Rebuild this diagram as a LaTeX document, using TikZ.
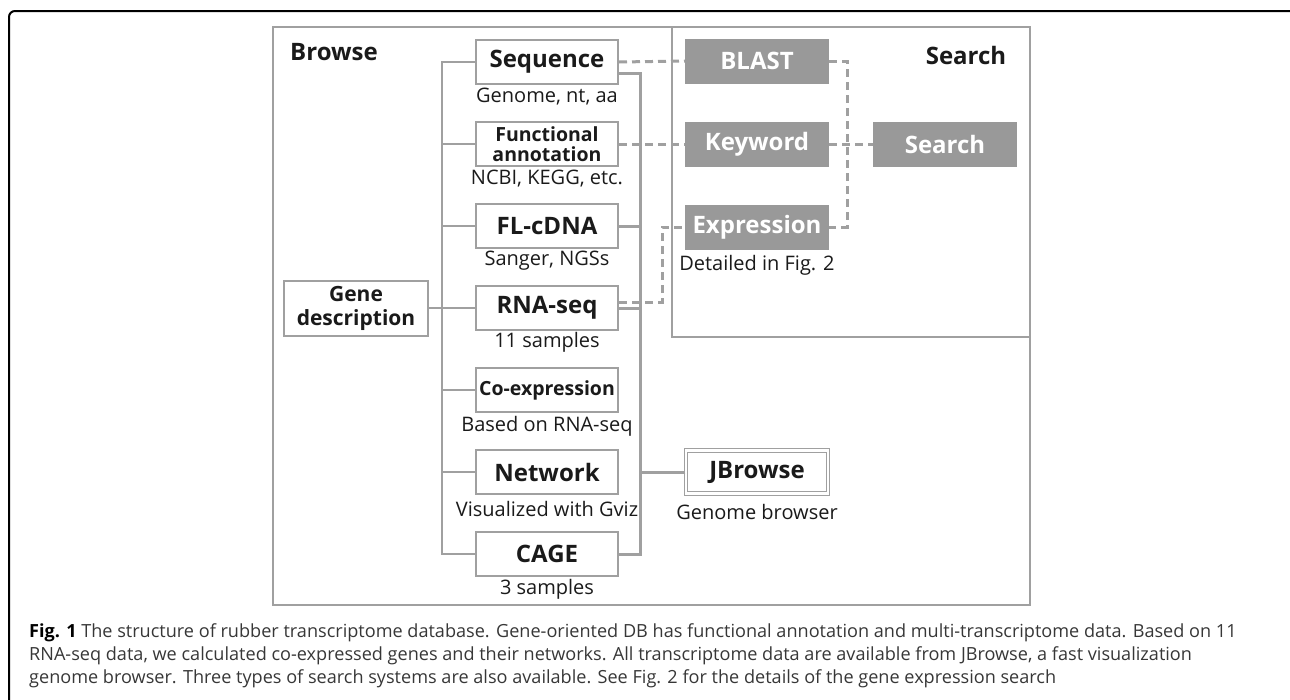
\documentclass[tikz,border=0pt]{standalone}
\usepackage{fontspec}
\setmainfont{Open Sans}
\usepackage{tikz}
\usetikzlibrary{arrows,shapes}
\definecolor{lgray}{RGB}{160,160,160}
\definecolor{bgray}{RGB}{153,153,153}
\definecolor{txt}{RGB}{26,26,26}
\definecolor{captxt}{RGB}{55,55,55}
\newcommand{\bigb}{\fontsize{24}{26}\selectfont\bfseries}
\newcommand{\smallb}{\fontsize{19.5}{20}\selectfont\bfseries}
\newcommand{\subf}{\fontsize{20}{22}\selectfont}
\newcommand{\capf}{\fontsize{18.1}{21}\selectfont}

\begin{document}
\begin{tikzpicture}[x=1pt,y=-1pt,node distance=82pt]
  \tikzstyle{wbox}=[draw=lgray,line width=2pt,fill=white,text=txt,minimum width=142pt,
                    minimum height=44pt,inner sep=0pt,align=center,font=\bigb]
  \tikzstyle{gbox}=[fill=bgray,text=white,minimum width=144pt,minimum height=45pt,inner sep=0pt,
                    font=\bigb]
  \tikzstyle{sub}=[text=txt,inner sep=0pt,font=\subf]
  \tikzstyle{thinline}=[draw=lgray,line width=2pt]
  \tikzstyle{thickline}=[draw=lgray,line width=3pt]
  \tikzstyle{dline}=[draw=lgray,line width=3pt,dash pattern=on 8pt off 5pt]
  \tikzstyle{captext}=[anchor=base west,inner sep=0pt,text=captxt,font=\capf]

  \useasboundingbox (0,0) rectangle (1290,699);
  % frame and panels
  \draw[line width=2pt,rounded corners=6pt] (9,702) -- (9,11) -- (1292,11);
  \draw[lgray,line width=2pt] (273,27) rectangle (1030,605);
  \draw[lgray,line width=2pt] (672,27) rectangle (1030,337);

  \node[text=txt,font=\bigb] (browse) at (334,52) {Browse};
  \node[text=txt,font=\bigb] (search) at (966,55) {Search};

  % browse column
  \node[wbox] (seq)              at (547,62) {Sequence};
  \node[wbox,font=\smallb] (fa)   [below of=seq]  {Functional\\annotation};
  \node[wbox] (fl)   [below of=fa]   {FL-cDNA};
  \node[wbox] (rna)  [below of=fl]   {RNA-seq};
  \node[wbox,font=\smallb] (coex) [below of=rna]  {Co-expression};
  \node[wbox] (net)  [below of=coex] {Network};
  \node[wbox] (cage) [below of=net]  {CAGE};

  \node[sub] (seqlab)  [below of=seq, node distance=35pt]  {Genome, nt, aa};
  \node[sub] (falab)   [below of=fa, node distance=35pt]   {NCBI, KEGG, etc.};
  \node[sub] (fllab)   [below of=fl, node distance=35pt]   {Sanger, NGSs};
  \node[sub] (rnalab)  [below of=rna, node distance=34pt]  {11 samples};
  \node[sub] (coexlab) [below of=coex, node distance=36pt] {Based on RNA-seq};
  \node[sub] (netlab)  [below of=net, node distance=37pt]  {Visualized with Gviz};
  \node[sub] (cagelab) [below of=cage, node distance=35pt] {3 samples};

  \node[wbox,minimum width=144pt,minimum height=55pt,font=\fontsize{21}{24}\selectfont\bfseries]
       (gene) [left of=rna, node distance=191pt] {Gene\\description};

  % search column
  \node[gbox] (blast) at (757,61) {BLAST};
  \node[gbox] (kw)   [below of=blast, node distance=83pt] {Keyword};
  \node[gbox] (expr) [below of=kw, node distance=83pt]    {Expression};
  \node[gbox] (srch) [right of=kw, node distance=188pt]   {Search};
  \node[sub] (exprlab) [below of=expr, node distance=38pt] {Detailed in Fig. 2};

  \node[wbox,line width=1.2pt,double,double distance=2.5pt,minimum height=43pt] (jb) at (757,472)
       {JBrowse};
  \node[sub] (jblab) [below of=jb, node distance=40pt] {Genome browser};

  % connectors
  \draw[thinline] (seq.west) -- ++(-33,0) |- (cage.west);
  \draw[thinline] (fa.west) -- ++(-33,0);
  \draw[thinline] (fl.west) -- ++(-33,0);
  \draw[thinline] (coex.west) -- ++(-33,0);
  \draw[thinline] (net.west) -- ++(-33,0);
  \draw[thinline] (gene.east) -- (rna.west);

  \draw[thickline] ([yshift=-11pt]seq.east) -- ++(21,0) |- (cage.east);
  \draw[thickline] (fl.east) -- ++(21,0);
  \draw[thickline] (rna.east) -- ++(21,0);
  \draw[thickline] (jb.west) -- ++(-44,0);

  \draw[dline] (seq.east) -- (blast.west);
  \draw[dline] (fa.east) -- (kw.west);
  \draw[dline] ([yshift=6pt]rna.east) -- ++(43,0) |- (expr.west);
  \draw[dline] (blast.east) -- ++(18,0) |- (expr.east);
  \draw[dline] (kw.east) -- (srch.west);

  % caption
  \node[captext] (cap1) at (29,637)
       {\textcolor{black}{\bfseries Fig. 1} The structure of rubber transcriptome database. Gene-oriented DB has functional annotation and multi-transcriptome data. Based on 11};
  \node[captext] (cap2) at (29,660)
       {RNA-seq data, we calculated co-expressed genes and their networks. All transcriptome data are available from JBrowse, a fast visualization};
  \node[captext] (cap3) at (29,683)
       {genome browser. Three types of search systems are also available. See Fig. 2 for the details of the gene expression search};
\end{tikzpicture}
\end{document}
